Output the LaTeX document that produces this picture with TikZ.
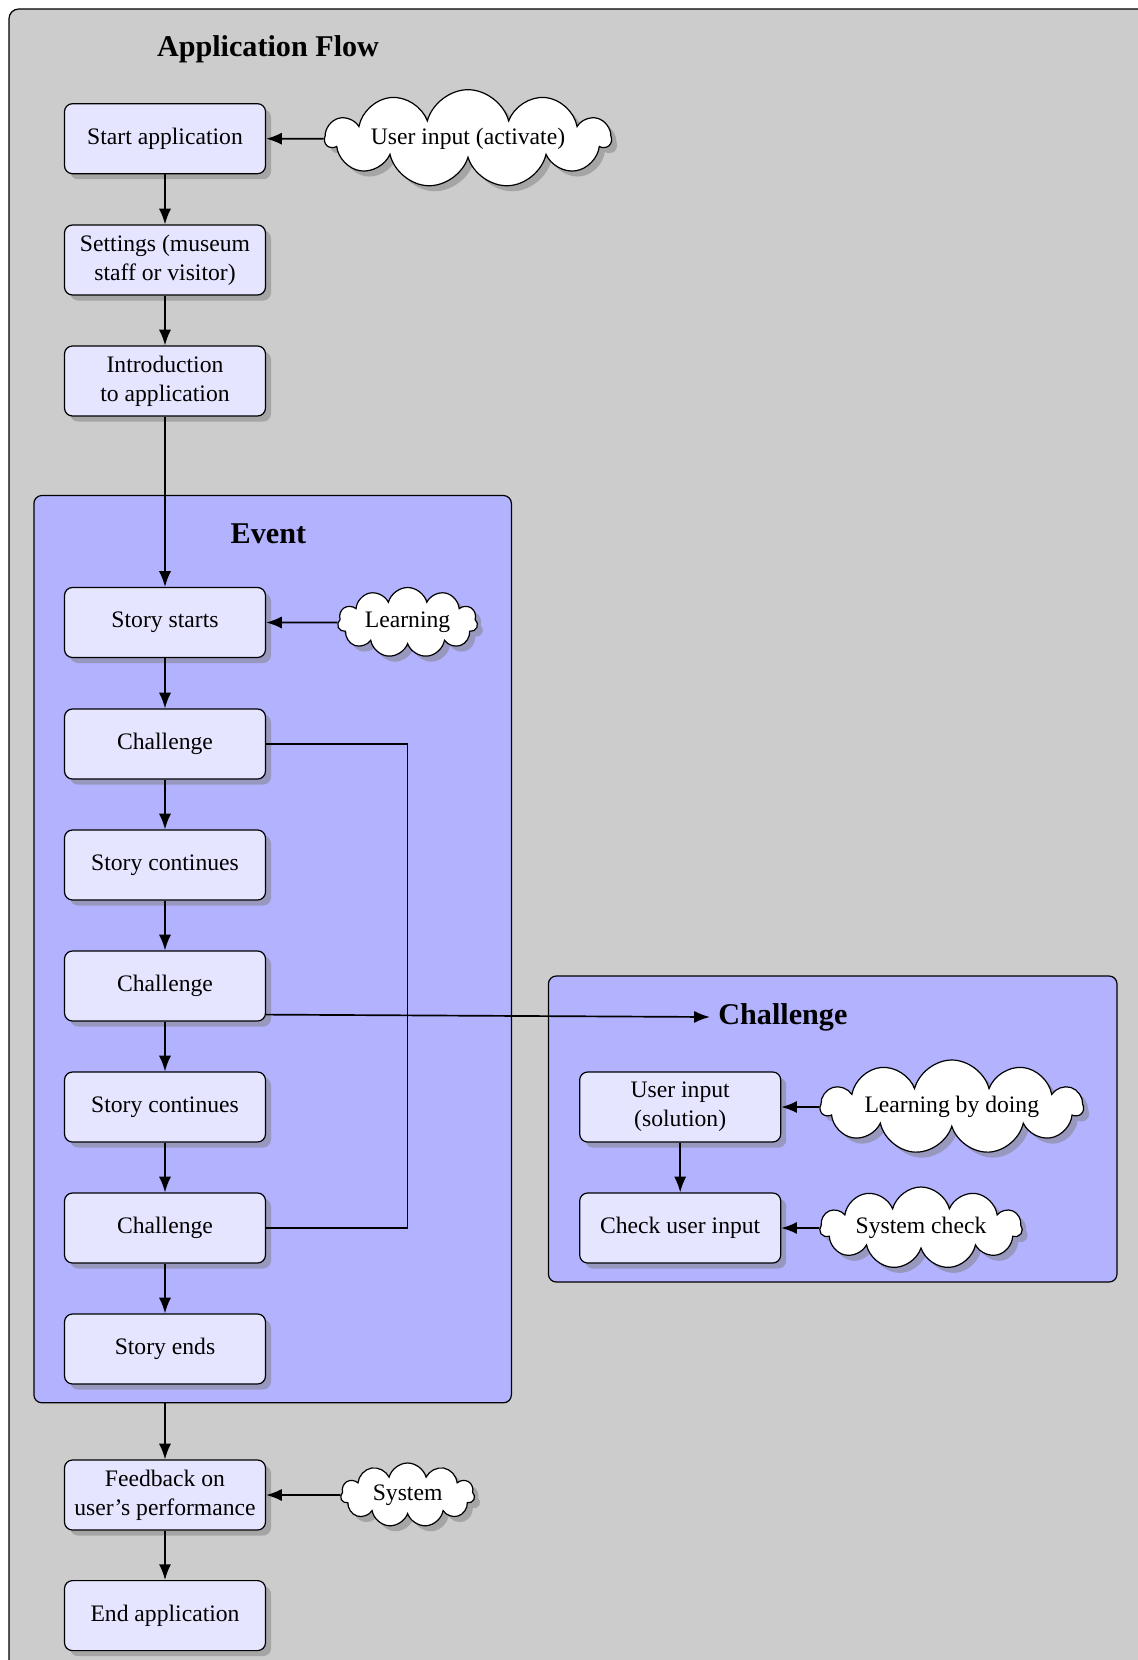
\documentclass[tikz,border=0pt]{standalone}
\usepackage{fontspec}
\setmainfont{Liberation Serif}
\usetikzlibrary{shapes.symbols,shadows,arrows.meta,calc}

\begin{document}
\begin{tikzpicture}[
  x=0.4146pt, y=-0.4146pt,
  font=\fontsize{9.8}{11.9}\selectfont,
  stepbox/.style={draw, line width=0.5pt, rounded corners=3.3pt, fill=blue!10,
    minimum width=201*0.4146pt, minimum height=70*0.4146pt,
    align=center, inner sep=2pt, drop shadow},
  cloudbox/.style={cloud, draw, line width=0.5pt, fill=white, cloud puffs=11,
    cloud ignores aspect, inner sep=1pt, drop shadow},
  panel/.style={draw, line width=0.5pt, rounded corners=3.3pt, fill=blue!30},
  heading/.style={font=\fontsize{12.5}{15}\selectfont\bfseries},
  flow/.style={-{Latex[length=6.5pt,width=5pt]}, line width=0.7pt},
  link/.style={line width=0.6pt}
]
\useasboundingbox (0,0) rectangle (1137,1660);

% grey outer panel, running off the right and bottom edges
\draw[line width=0.5pt, fill=black!20, rounded corners=4pt] (9,9) rectangle (1160,1700);

% container panels
\node[panel, minimum width=477.5*0.4146pt, minimum height=907.3*0.4146pt] (eventbox) at (272.65,949.15) {};
\node[panel, minimum width=568.6*0.4146pt, minimum height=306*0.4146pt] (chbox) at (832.7,1129) {};

% headings
\node[heading] (title) at (268,49.5) {Application Flow};
\node[heading] (evhead) at (268.4,534) {Event};
\node[heading] (chhead) at (782.9,1017) {Challenge};

% main column
\node[stepbox] (start) at (165,138.7) {Start application};
\node[stepbox] (settings) at (165,260) {Settings (museum\\staff or visitor)};
\node[stepbox] (intro) at (165,381) {Introduction\\to application};
\node[stepbox] (s1) at (165,622.5) {Story starts};
\node[stepbox] (ch1) at (165,744) {Challenge};
\node[stepbox] (s2) at (165,865) {Story continues};
\node[stepbox] (ch2) at (165,986) {Challenge};
\node[stepbox] (s3) at (165,1107) {Story continues};
\node[stepbox] (ch3) at (165,1228) {Challenge};
\node[stepbox] (send) at (165,1349) {Story ends};
\node[stepbox] (fb) at (165,1495) {Feedback on\\user's performance};
\node[stepbox] (endapp) at (165,1615.6) {End application};

% challenge detail
\node[stepbox] (uin) at (680.2,1107) {User input\\(solution)};
\node[stepbox] (check) at (680.2,1228) {Check user input};

% clouds
\node[cloudbox, minimum width=285*0.4146pt, minimum height=98*0.4146pt] (cact) at (468,138.7) {User input (activate)};
\node[cloudbox, minimum width=140*0.4146pt, minimum height=70*0.4146pt] (learn) at (407.6,622.5) {Learning};
\node[cloudbox, minimum width=262*0.4146pt, minimum height=94*0.4146pt] (ldo) at (951.8,1107) {Learning by doing};
\node[cloudbox, minimum width=202*0.4146pt, minimum height=82*0.4146pt] (sys) at (921,1228) {System check};
\node[cloudbox, minimum width=134*0.4146pt, minimum height=64*0.4146pt] (sysfb) at (407.6,1495) {System};

% arrows along the main column
\draw[flow] (start) -- (settings);
\draw[flow] (settings) -- (intro);
\draw[flow] (intro) -- (s1);
\draw[flow] (s1) -- (ch1);
\draw[flow] (ch1) -- (s2);
\draw[flow] (s2) -- (ch2);
\draw[flow] (ch2) -- (s3);
\draw[flow] (s3) -- (ch3);
\draw[flow] (ch3) -- (send);
\draw[flow] (fb.north |- eventbox.south) -- (fb.north);
\draw[flow] (fb) -- (endapp);
\draw[flow] (uin) -- (check);

% cloud inputs
\draw[flow] (cact.west) -- (start.east);
\draw[flow] (learn.west) -- (s1.east);
\draw[flow] (sysfb.west) -- (fb.east);
\draw[flow] (ldo.west) -- (uin.east);
\draw[flow] (sys.west) -- (check.east);

% challenges bracket and link to the challenge detail
\draw[link] (ch1.east) -- (ch1.east -| learn) -- (ch3.east -| learn) -- (ch3.east);
\draw[flow] ($(ch2.south east)+(0,-7)$) -- (chhead.west);
\end{tikzpicture}
\end{document}
